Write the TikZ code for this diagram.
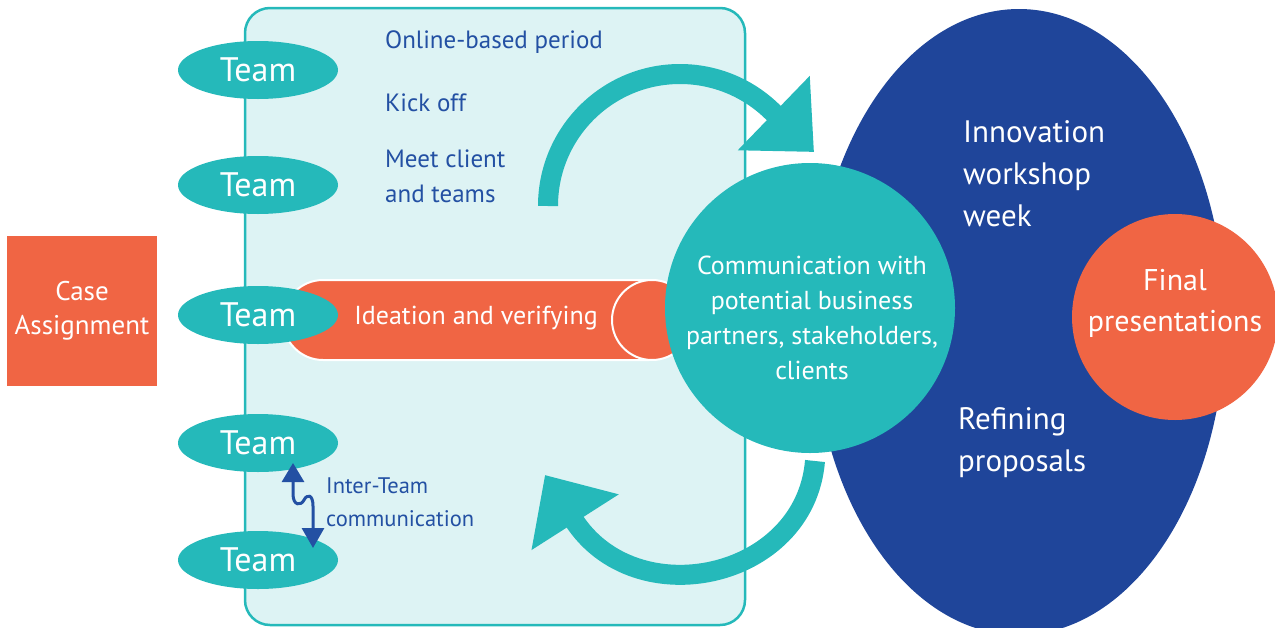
\documentclass[tikz,border=0pt]{standalone}
\usepackage{fontspec}
\setmainfont{PT Sans}
\usetikzlibrary{arrows.meta}
\usetikzlibrary{positioning}
\usetikzlibrary{shapes.geometric}
\definecolor{tealc}{HTML}{25B9BA}
\definecolor{orangec}{HTML}{F06544}
\definecolor{navyc}{HTML}{1F459A}
\definecolor{panelc}{HTML}{DDF3F4}
\definecolor{inkc}{HTML}{2350A3}
\tikzset{team/.style = {ellipse, fill = tealc, minimum width = 160, minimum height = 58, inner sep = 0,
    text = white, font = \fontsize{34}{40}\selectfont}}
\tikzset{note/.style = {inner sep = 0, anchor = west, align = left, text = inkc, font = \fontsize{25}{35}\selectfont}}
\tikzset{whitetext/.style = {inner sep = 0, align = center, text = white}}
\tikzset{bigarrow/.style = {draw = tealc, line width = 20, -{Triangle[width = 100pt, length = 56pt]}}}

\begin{document}
\begin{tikzpicture}[x = 1pt, y = -1pt]
      \useasboundingbox (0, 0) rectangle (1275, 627);

      \node [fill = orangec, minimum width = 150, minimum height = 150, whitetext,
        font = \fontsize{27}{34}\selectfont] (case) at (82, 311) {Case\\Assignment};

      \draw [fill = panelc, draw = tealc, line width = 2.5, rounded corners = 25] (245, 8) rectangle (745, 625);

      \node [note] (online) at (385, 42) {Online-based period};
      \node [note] (kick) at (385, 103) {Kick off};
      \node [note] (meet) at (385, 176) {Meet client\\and teams};

      \node [fill = orangec, draw = white, line width = 2, rounded corners = 40, minimum width = 406,
        minimum height = 80] (idea) at (486, 320) {};
      \node [whitetext, font = \fontsize{26}{32}\selectfont] (idealabel) at (476, 318) {Ideation and verifying};
      \node [circle, fill = orangec, draw = white, line width = 2, minimum size = 80] (ideaend) at (652, 320) {};

      \foreach \y/\n in {70/1, 185/2, 315/3, 443/4, 560/5}
        \node [team] (team\n) at (258, \y) {Team};

      \coordinate (talktop) at (293, 463);
      \coordinate (talkbot) at (313, 548);
      \draw [draw = inkc, line width = 3, {Triangle[width = 22pt, length = 19pt]}-{Triangle[width = 22pt, length = 20pt]}]
        (talktop) -- (293, 494) .. controls (293, 506) and (301, 506) .. (304, 500)
        .. controls (307, 494) and (313, 494) .. (313, 506) -- (talkbot);
      \node [note, font = \fontsize{22.5}{33}\selectfont] (talktext) at (326, 502) {Inter-Team\\communication};

      \node [ellipse, fill = navyc, minimum width = 412, minimum height = 626, inner sep = 0] (week) at (1019, 322) {};
      \node [whitetext, anchor = west, align = left, font = \fontsize{31}{42}\selectfont] (innov) at (963, 174) {Innovation\\workshop\\week};
      \node [whitetext, anchor = west, align = left, font = \fontsize{31}{42}\selectfont] (refine) at (958, 443) {Refining\\proposals};

      \node [circle, fill = tealc, minimum size = 290, inner sep = 0] (comm) at (810, 308) {};
      \node [whitetext, font = \fontsize{26}{35}\selectfont] (commlabel) at (812, 318)
        {Communication with\\potential business\\partners, stakeholders,\\clients};

      \node [circle, fill = orangec, minimum size = 206, inner sep = 0] (final) at (1175, 317) {};
      \node [whitetext, font = \fontsize{30}{41}\selectfont] (finallabel) at (1175, 303) {Final\\presentations};

      \coordinate (meetfoot) at (548, 206);
      \coordinate (commtop) at (814, 152);
      \draw [bigarrow] (meetfoot) arc (180:315:132) -- (commtop);

      \coordinate (commfoot) at (815, 461);
      \coordinate (panelback) at (545, 475);
      \draw [bigarrow] (commfoot) .. controls (805, 580) and (635, 616) .. (panelback);
    \end{tikzpicture}
\end{document}
